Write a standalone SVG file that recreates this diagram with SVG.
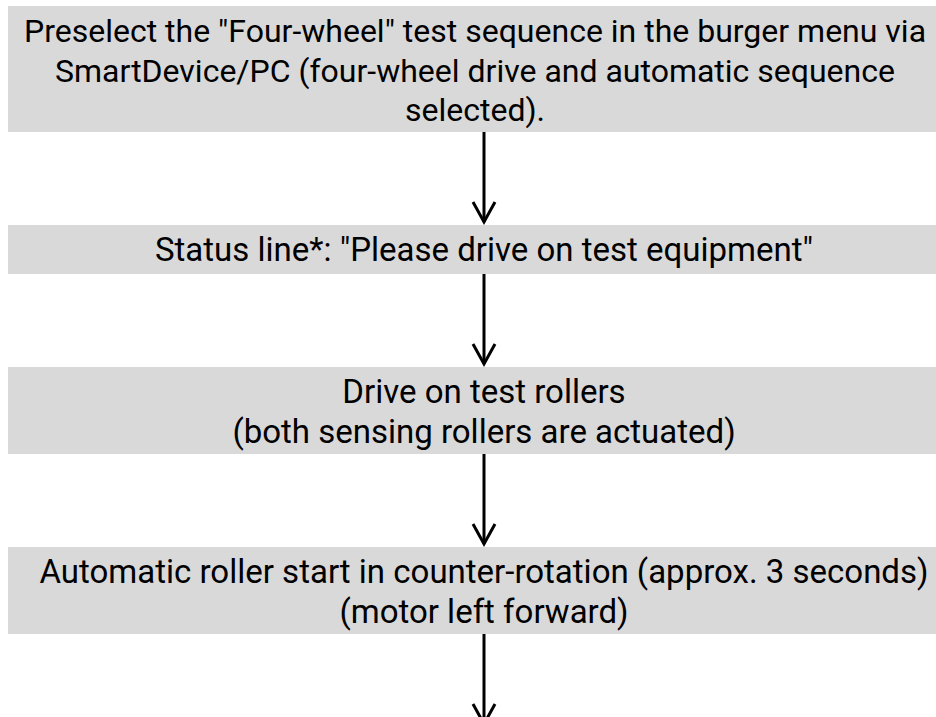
<svg xmlns="http://www.w3.org/2000/svg" width="936" height="717" viewBox="0 0 936 717">
<style>
.box{fill:#d9d9d9;}
.t{font-family:Roboto,"Liberation Sans",sans-serif;font-size:33px;fill:#000;text-anchor:middle;}
.t1{font-size:32px;}
.c{stroke:#000;stroke-width:3;fill:none;}
</style>
<defs>
<marker id="ah" markerUnits="userSpaceOnUse" markerWidth="30" markerHeight="30" viewBox="-25 -15 30 30" refX="0" refY="0" orient="auto">
<path d="M-20,-11 L0,0 L-20,11" fill="none" stroke="#000" stroke-width="3"/>
</marker>
</defs>
<rect width="936" height="717" fill="#fff"/>
<g id="n1">
<rect class="box" x="8" y="6" width="952" height="126"/>
<text class="t t1" x="475" y="42">Preselect the "Four-wheel" test sequence in the burger menu via</text>
<text class="t t1" x="475" y="81.5">SmartDevice/PC (four-wheel drive and automatic sequence</text>
<text class="t t1" x="475" y="121">selected).</text>
</g>
<g id="n2">
<rect class="box" x="8" y="225" width="952" height="49"/>
<text class="t" x="484" y="261">Status line*: "Please drive on test equipment"</text>
</g>
<g id="n3">
<rect class="box" x="8" y="367" width="952" height="87"/>
<text class="t" x="484" y="403">Drive on test rollers</text>
<text class="t" x="484" y="442.5">(both sensing rollers are actuated)</text>
</g>
<g id="n4">
<rect class="box" x="8" y="547" width="952" height="87"/>
<text class="t" x="484" y="583">Automatic roller start in counter-rotation (approx. 3 seconds)</text>
<text class="t" x="484" y="622.5">(motor left forward)</text>
</g>
<g id="connectors">
<line class="c" x1="484" y1="132" x2="484" y2="222" marker-end="url(#ah)"/>
<line class="c" x1="484" y1="274" x2="484" y2="364" marker-end="url(#ah)"/>
<line class="c" x1="484" y1="454" x2="484" y2="544" marker-end="url(#ah)"/>
<line class="c" x1="484" y1="634" x2="484" y2="724" marker-end="url(#ah)"/>
</g>
</svg>
